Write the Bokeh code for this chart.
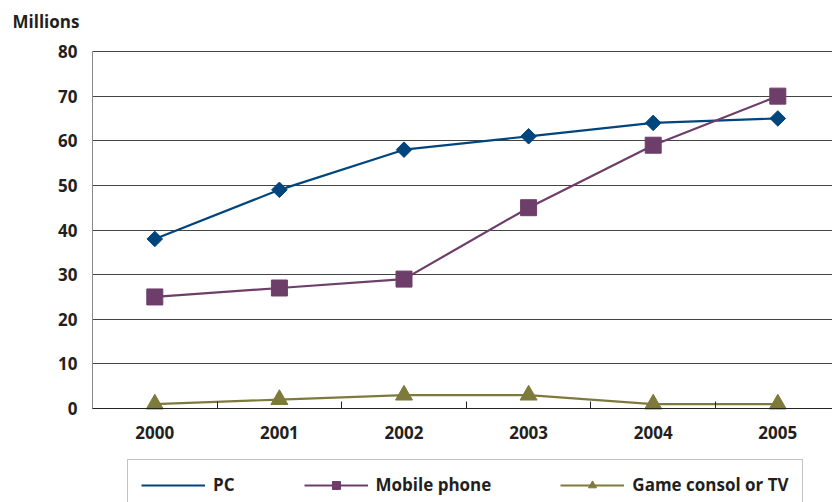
import math
from bokeh.plotting import figure
from bokeh.models import Range1d, FixedTicker, Legend, LegendItem, Label
from bokeh.embed import file_html
from bokeh.resources import INLINE

years = ["2000", "2001", "2002", "2003", "2004", "2005"]
pc = [38, 49, 58, 61, 64, 65]
mobile = [25, 27, 29, 45, 59, 70]
game = [1, 2, 3, 3, 1, 1]
y_ticks = [0, 10, 20, 30, 40, 50, 60, 70, 80]

x = list(range(len(years)))
boundaries = [i - 0.5 for i in range(len(years) + 1)]

FONT = "Open Sans"
FS = "17px"
TXT = "#231f20"
C_PC = "#00457d"
C_MOB = "#6e3e6a"
C_GAME = "#7d7a3c"

W, H = 832, 502
# layout: plot area left edge at 92 px, y=0 at 408 px, y=80 at 51 px
PX_X = 124.6            # px per category
PX_Y = 357 / 80         # px per million
X_START = -0.5 - 92 / PX_X
X_END = -0.5 + (W - 92) / PX_X
Y_START = -(H - 408) / PX_Y
Y_END = 80 + 51 / PX_Y

p = figure(width=W, height=H, output_backend="svg", toolbar_location=None,
           x_range=Range1d(X_START, X_END), y_range=Range1d(Y_START, Y_END),
           min_border_left=0, min_border_right=0, min_border_top=0,
           min_border_bottom=0)
p.outline_line_color = None
p.background_fill_color = "white"
p.border_fill_color = "white"

p.xgrid.visible = False
p.ygrid.ticker = FixedTicker(ticks=y_ticks)
p.ygrid.grid_line_color = "#444444"
p.ygrid.grid_line_width = 1
try:
    p.ygrid.cross_bounds = (-0.5, X_END)
except Exception:
    p.ygrid.visible = False
    p.segment(x0=-0.5, y0=y_ticks, x1=X_END, y1=y_ticks,
              line_color="#444444", line_width=1)

xa = p.xaxis[0]
xa.fixed_location = 0
xa.bounds = (-0.5, X_END)
xa.ticker = FixedTicker(ticks=x, minor_ticks=boundaries)
xa.major_label_overrides = {i: y for i, y in enumerate(years)}
xa.major_tick_line_color = None
xa.major_tick_in = 0
xa.major_tick_out = 0
xa.minor_tick_in = 7
xa.minor_tick_out = 0
xa.minor_tick_line_color = "#222222"
xa.axis_line_color = "#222222"
xa.major_label_text_font = FONT
xa.major_label_text_font_style = "bold"
xa.major_label_text_font_size = FS
xa.major_label_text_color = TXT
xa.major_label_standoff = 17

ya = p.yaxis[0]
ya.fixed_location = -0.5
ya.ticker = FixedTicker(ticks=y_ticks)
ya.bounds = (0, 80)
ya.major_tick_line_color = None
ya.major_tick_in = 0
ya.major_tick_out = 0
ya.minor_tick_line_color = None
ya.axis_line_color = "#888888"
ya.major_label_text_font = FONT
ya.major_label_text_font_style = "bold"
ya.major_label_text_font_size = FS
ya.major_label_text_color = TXT
ya.major_label_standoff = 15

l1 = p.line(x, pc, line_color=C_PC, line_width=2.2)
s1 = p.scatter(x, pc, marker="square", angle=math.pi / 4, size=11,
               fill_color=C_PC, line_color=C_PC)
l2 = p.line(x, mobile, line_color=C_MOB, line_width=2.2)
s2 = p.scatter(x, mobile, marker="square", size=16,
               fill_color=C_MOB, line_color=C_MOB)
l3 = p.line(x, game, line_color=C_GAME, line_width=2.2)
s3 = p.scatter(x, game, marker="triangle", size=17,
               fill_color=C_GAME, line_color=C_GAME)
# legend-only glyph for the PC diamond key
k1 = p.scatter([], [], marker="diamond", size=14,
               fill_color=C_PC, line_color=C_PC)

legend = Legend(items=[
    LegendItem(label="PC", renderers=[l1, k1]),
    LegendItem(label="Mobile phone", renderers=[l2, s2]),
    LegendItem(label="Game consol or TV", renderers=[l3, s3]),
], orientation="horizontal", location=(127, -8))
legend.glyph_width = 64
legend.glyph_height = 20
legend.label_height = 20
legend.padding = 13
legend.spacing = 69
legend.label_standoff = 8
legend.label_text_font = FONT
legend.label_text_font_style = "bold"
legend.label_text_font_size = FS
legend.label_text_color = TXT
legend.border_line_color = "#888888"
legend.border_line_width = 1
legend.background_fill_color = "white"
legend.background_fill_alpha = 1
legend.margin = 0
p.add_layout(legend)

p.add_layout(Label(x=-0.5 - 80 / PX_X, y=80 + 30 / PX_Y, text="Millions",
                   text_align="left", text_baseline="middle",
                   text_font=FONT, text_font_style="bold",
                   text_font_size=FS, text_color=TXT))

open("out.html", "w").write(file_html(p, INLINE))
